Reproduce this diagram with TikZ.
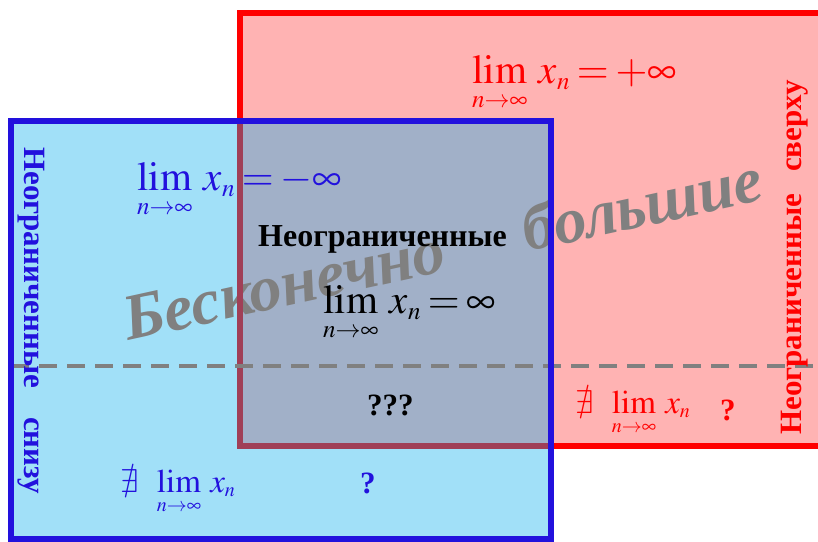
\documentclass[tikz,border=0pt]{standalone}
\usepackage{mathptmx}
\usepackage{amssymb}
\usepackage{fontspec}
\setmainfont{Liberation Serif}
\DeclareMathSizes{41}{41}{25}{20}
\DeclareMathSizes{33}{33}{20}{16}
\definecolor{pinkfill}{RGB}{255,179,179}
\definecolor{bluefill}{RGB}{0,171,236}
\definecolor{bluebrd}{RGB}{34,17,221}
\definecolor{mauve}{RGB}{160,63,87}
\definecolor{grayt}{RGB}{128,128,128}
\newcommand\limform[1]{$\thickmuskip=3mu\displaystyle\lim_{n\to\infty}\mkern3mu x_n = #1$}
\newcommand\nexform{$\displaystyle\nexists\mkern8mu\lim_{n\to\infty}\mkern3mu x_n$}
\tikzset{
  lbl/.style={inner sep=0pt, anchor=base west},
  big/.style={font=\fontsize{41}{41}\selectfont},
  mid/.style={font=\fontsize{33}{33}\selectfont},
  bold/.style={font=\fontsize{31}{31}\selectfont\bfseries},
  watermark/.style={inner sep=0pt, anchor=base west, text=grayt, rotate=12.4,
    font=\fontsize{65}{65}\selectfont\bfseries\itshape},
}
\begin{document}
\begin{tikzpicture}[x=1pt,y=-1pt]
\useasboundingbox (0,0) rectangle (818,541);
\clip (0,0) rectangle (818,541);
% fills
\fill[pinkfill] (240,13) rectangle (840,446);
\fill[bluefill, fill opacity=0.37] (11,121) rectangle (551,539);
% watermark
\node[watermark] (w1) at (128,341) {Бесконечно};
\node[watermark] (w2) at (527,252) {большие};
% red border
\draw[red, line width=6pt] (240,13) rectangle (840,446);
\begin{scope}
  \clip (11,121) rectangle (551,539);
  \draw[mauve, line width=6pt] (240,13) rectangle (840,446);
\end{scope}
% dashed line
\coordinate (dl) at (11,366);
\coordinate (dr) at (818,366);
\draw[grayt, line width=4pt, dash pattern=on 18pt off 10pt] (dl) -- (dr);
% blue border
\draw[bluebrd, line width=6pt] (11,121) rectangle (551,539);
% formulas
\node[lbl, big, text=red] (fplus) at (472,83) {\limform{+\infty}};
\node[lbl, big, text=bluebrd] (fminus) at (137,190) {\limform{-\infty}};
\node[lbl, big, text=black] (finf) at (323,313) {\limform{\infty}};
\node[lbl, mid, text=red] (nexr) at (575,413) {\nexform};
\node[lbl, mid, text=bluebrd] (nexb) at (120,492) {\nexform};
% texts
\node[lbl, font=\fontsize{32}{32}\selectfont\bfseries] (nc) at (258,246) {Неограниченные};
\node[lbl, bold] (qqq) at (367,415) {???};
\node[lbl, bold, text=bluebrd] (qb) at (360,493) {?};
\node[lbl, bold, text=red] (qr) at (720,420) {?};
% vertical labels
\node[lbl, bold, text=bluebrd, rotate=-90] (ln1) at (24,147) {Неограниченные};
\node[lbl, bold, text=bluebrd, rotate=-90] (ln2) at (24,417) {снизу};
\node[lbl, bold, text=red, rotate=90] (rn1) at (801,435) {Неограниченные};
\node[lbl, bold, text=red, rotate=90] (rn2) at (801,172) {сверху};
\end{tikzpicture}
\end{document}
